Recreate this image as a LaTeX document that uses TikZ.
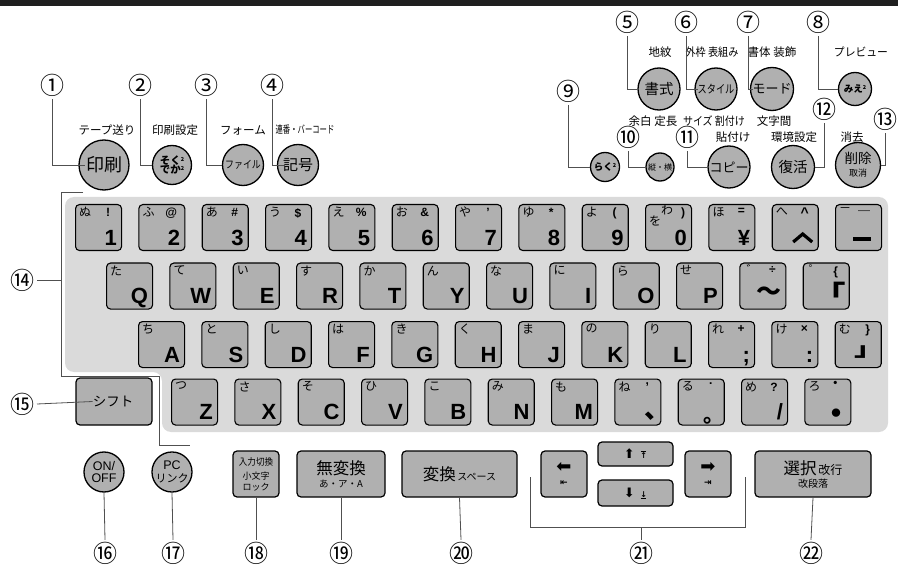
\documentclass[tikz,border=0pt]{standalone}
\usepackage{fontspec}
\usepackage{graphicx}
\setmainfont{Liberation Sans}
\newfontfamily\jp{Noto Sans CJK JP}
\newfontfamily\dvs{DejaVu Sans}
\newcommand\myfs[1]{\fontsize{#1}{#1}\selectfont}
\newcommand\sqr{\raisebox{0.55ex}{\myfs{5.5}2}}
\newcommand\uptobar{\ooalign{\hfil\rule[6.6pt]{5.5pt}{1pt}\hfil\cr↑\cr}}
\newcommand\dntobar{\ooalign{\hfil\rule[-1.2pt]{5.5pt}{1pt}\hfil\cr↓\cr}}
\definecolor{keyg}{HTML}{B0B0B0}
\definecolor{panelg}{HTML}{DADADA}
\definecolor{lin}{HTML}{505050}
\tikzset{
 kb/.style={draw=black, line width=1.1pt, fill=keyg, rounded corners=4pt, minimum width=46pt, minimum height=46pt, inner sep=0pt, anchor=north west},
 kana/.style={font=\jp\myfs{12}, inner sep=0pt, anchor=north west},
 sym/.style={font=\bfseries\myfs{12}, inner sep=0pt, anchor=north},
 big/.style={font=\bfseries\myfs{22}, inner sep=0pt, anchor=base east},
 bigj/.style={font=\jp\bfseries\myfs{21}, inner sep=0pt},
 num/.style={font=\jp\myfs{24}, inner sep=0pt, outer sep=3pt, text height=19.2pt, text depth=1.2pt},
 lab/.style={font=\jp\myfs{11.5}, inner sep=0pt},
 conn/.style={draw=lin, line width=0.8pt},
 rk/.style={circle, draw=black, line width=1.3pt, fill=keyg, inner sep=0pt, align=center},
 sk/.style={draw=black, line width=1.2pt, fill=keyg, rounded corners=4pt, inner sep=0pt, align=center},
}
\newcommand\kk[6]{%
 \node[kb] (#1) at (#2,#3) {};
 \node[kana] (#1k) at ([shift={(4,3)}]#1.north west) {#4};
 \node[sym] (#1s) at ([shift={(33,4)}]#1.north west) {#5};
 \node[big] (#1b) at ([shift={(-5,-6)}]#1.south east) {#6};
}
\begin{document}
\begin{tikzpicture}[x=1pt,y=-1pt]
\useasboundingbox (0,0) rectangle (898,567);
\fill[black!88] (0,0) rectangle (898,6);
% panel
\fill[panelg, rounded corners=9pt] (65,197) -- (888,197) -- (888,432) -- (162,432) -- (162,372) -- (65,372) -- cycle;

% ---- top-left round keys
\node[rk, minimum size=50pt] (kprint) at (104,165) {\jp\myfs{18}印刷};
\node[rk, minimum size=39pt, font=\jp\bfseries\myfs{10.5}] (ksoku) at (172,165) {そく\sqr\\[-1pt]でか\sqr};
\node[rk, minimum size=41pt] (kfile) at (243,165) {\jp\myfs{10.5}\scalebox{0.85}[1]{ファイル}};
\node[rk, minimum size=41pt] (kkigo) at (298,165) {\jp\myfs{15}記号};
\node[lab] (l1) at (107,130) {テープ送り};
\node[lab] (l2) at (175,130) {印刷設定};
\node[lab] (l3) at (243,130) {フォーム};
\node[lab] (l4) at (305,130) {\myfs{10.5}\scalebox{0.7}[1]{連番・バーコード}};
\node[num] (n1) at (52,86) {①};
\node[num] (n2) at (140,86) {②};
\node[num] (n3) at (206,86) {③};
\node[num] (n4) at (272,86) {④};
\draw[conn] (n1.south) |- ([shift={(7,0)}]kprint.west);
\draw[conn] (n2.south) |- (ksoku.west);
\draw[conn] (n3.south) |- (kfile.west);
\draw[conn] (n4.south) |- ([shift={(8,0)}]kkigo.west);

% ---- top-right round keys
\node[rk, minimum size=42pt] (kshoshiki) at (659,89) {\jp\myfs{14.5}書式};
\node[rk, minimum size=42pt] (kstyle) at (716,89) {\jp\myfs{11.5}\scalebox{0.8}[1]{スタイル}};
\node[rk, minimum size=43pt] (kmode) at (772,89) {\jp\myfs{13}モード};
\node[rk, minimum size=33pt] (kmie) at (855,89) {\jp\bfseries\myfs{9.5}みえ\sqr};
\node[lab] (l5) at (660,52) {地紋};
\node[lab] (l6) at (712,52) {\scalebox{0.88}[1]{外枠 表組み}};
\node[lab] (l7) at (772,52) {書体 装飾};
\node[lab] (l8) at (861,52) {\scalebox{0.94}[1]{プレビュー}};
\node[lab] (l9) at (653,121) {余白 定長};
\node[lab] (l10) at (714,121) {\scalebox{0.87}[1]{サイズ 割付け}};
\node[lab] (l11) at (774,121) {文字間};
\node[num] (n5) at (627,23) {⑤};
\node[num] (n6) at (686,23) {⑥};
\node[num] (n7) at (748,23) {⑦};
\node[num] (n8) at (818,23) {⑧};
\draw[conn] (n5.south) |- (kshoshiki.west);
\draw[conn] (n6.south) |- ([shift={(4,0)}]kstyle.west);
\draw[conn] (n7.south) |- ([shift={(3,0)}]kmode.west);
\draw[conn] (n8.south) |- (kmie.west);

\node[rk, minimum size=29pt] (kraku) at (605,167) {\jp\bfseries\myfs{9.5}らく\sqr};
\node[rk, minimum size=28pt] (ktate) at (660,167) {\jp\myfs{8}縦・横};
\node[rk, minimum size=42pt] (kcopy) at (729,167) {\jp\myfs{13}コピー};
\node[rk, minimum size=43pt] (kfuk) at (793,167) {\jp\myfs{14.5}復活};
\node[rk, minimum size=45pt, font=\jp] (ksaku) at (858,165) {{\myfs{13.5}削除}\\[1pt]{\myfs{9}取消}};
\node[lab] (l12) at (733,137) {貼付け};
\node[lab] (l13) at (794,137) {環境設定};
\node[lab] (l14) at (852,137) {消去};
\node[num] (n9) at (568,92) {⑨};
\node[num] (n10) at (628,138) {⑩};
\node[num] (n11) at (687,138) {⑪};
\node[num] (n12) at (824,110) {⑫};
\node[num] (n13) at (885.5,120) {⑬};
\draw[conn] (n9.south) |- (kraku.west);
\draw[conn] (n10.south) |- (ktate.west);
\draw[conn] (n11.south) |- (kcopy.west);
\draw[conn] (n12.south) |- (kfuk.east);
\draw[conn] (n13.south) |- (ksaku.east);

% ---- keyboard row 1
\kk{k1}{75}{204}{ぬ}{!}{1}
\kk{k2}{138.3}{204}{ふ}{@}{2}
\kk{k3}{201.7}{204}{あ}{\#}{3}
\kk{k4}{265}{204}{う}{\$}{4}
\kk{k5}{328.3}{204}{え}{\%}{5}
\kk{k6}{391.7}{204}{お}{\&}{6}
\kk{k7}{455}{204}{や}{'}{7}
\kk{k8}{518.3}{204}{ゆ}{*}{8}
\kk{k9}{581.7}{204}{よ}{(}{9}
\kk{k0}{645}{204}{}{}{0}
\node[kana] (k0w) at ([shift={(16,1)}]k0.north west) {わ};
\node[kana] (k0o) at ([shift={(4,12)}]k0.north west) {を};
\node[sym] (k0p) at ([shift={(38,4)}]k0.north west) {)};
\kk{kyen}{708.3}{204}{ほ}{=}{¥}
\kk{kcar}{771.7}{204}{へ}{\myfs{14}\textasciicircum}{}
\draw[line width=3.2pt, miter limit=10] ([shift={(21.5,38)}]kcar.north west) -- ([shift={(31,30)}]kcar.north west) -- ([shift={(40.5,38)}]kcar.north west);
\kk{kmin}{835}{204}{}{}{}
\node[kana] (kmink) at ([shift={(4,3)}]kmin.north west) {－};
\node[sym, font=\jp\bfseries\myfs{12}] (kmins) at ([shift={(29,7)}]kmin.north west) {￣};
\fill ([shift={(18,33)}]kmin.north west) rectangle ([shift={(36,37.5)}]kmin.north west);

% ---- row 2
\kk{kq}{106}{262.5}{た}{}{Q}
\kk{kw}{169.3}{262.5}{て}{}{W}
\kk{ke}{232.7}{262.5}{い}{}{E}
\kk{kr}{296}{262.5}{す}{}{R}
\kk{kt}{359.3}{262.5}{か}{}{T}
\kk{ky}{422.7}{262.5}{ん}{}{Y}
\kk{ku}{486}{262.5}{な}{}{U}
\kk{ki}{549.3}{262.5}{に}{}{I}
\kk{ko}{612.7}{262.5}{ら}{}{O}
\kk{kp}{676}{262.5}{せ}{}{P}
\kk{kti}{739.3}{262.5}{}{÷}{}
\node[kana] (ktid) at ([shift={(7,2)}]kti.north west) {゛};
\node[bigj, font=\jp\bfseries\myfs{25}] (ktib) at ([shift={(30,31)}]kti.north west) {〜};
\kk{kbr}{802.7}{262.5}{}{\{}{}
\node[kana] (kbrd) at ([shift={(6,2)}]kbr.north west) {゜};
\node[bigj, font=\jp\bfseries\myfs{25}] (kbrb) at ([shift={(27,30)}]kbr.north west) {\scalebox{1.3}[1]{「}};

% ---- row 3
\kk{ka}{138}{321}{ち}{}{A}
\kk{ks}{201.3}{321}{と}{}{S}
\kk{kd}{264.7}{321}{し}{}{D}
\kk{kf}{328}{321}{は}{}{F}
\kk{kg}{391.3}{321}{き}{}{G}
\kk{kh}{454.7}{321}{く}{}{H}
\kk{kj}{518}{321}{ま}{}{J}
\kk{kk}{581.3}{321}{の}{}{K}
\kk{kl}{644.7}{321}{り}{}{L}
\kk{ksc}{708}{321}{れ}{+}{;}
\kk{kco}{771.3}{321}{け}{×}{:}
\kk{kbc}{834.7}{321}{む}{\}}{}
\node[bigj, font=\jp\bfseries\myfs{20}] (kbcb) at ([shift={(35,31)}]kbc.north west) {\scalebox{1.5}[1]{」}};

% ---- row 4
\kk{kz}{171}{378.5}{つ}{}{Z}
\kk{kx}{234.3}{378.5}{さ}{}{X}
\kk{kc}{297.7}{378.5}{そ}{}{C}
\kk{kv}{361}{378.5}{ひ}{}{V}
\kk{kbb}{424.3}{378.5}{こ}{}{B}
\kk{kn}{487.7}{378.5}{み}{}{N}
\kk{km}{551}{378.5}{も}{}{M}
\kk{kcm}{614.3}{378.5}{ね}{,}{}
\node[bigj, font=\jp\bfseries\myfs{26}, anchor=south west] (kcmb) at ([shift={(30,-5)}]kcm.south west) {、};
\kk{kpd}{677.7}{378.5}{る}{.}{}
\node[bigj, anchor=south west] (kpdb) at ([shift={(26,-1.5)}]kpd.south west) {。};
\kk{ksl}{741}{378.5}{め}{?}{/}
\kk{kdt}{804.3}{378.5}{ろ}{}{}
\node[sym, font=\jp\bfseries\myfs{12}] (kdts) at ([shift={(31,3)}]kdt.north west) {・};
\node[bigj, font=\jp\bfseries\myfs{30}] (kdtb) at ([shift={(32.5,38)}]kdt.north west) {・};

% ---- shift key and bracket 14
\node[sk, minimum width=76pt, minimum height=47pt] (kshift) at (114,401.5) {};
\node[font=\jp\myfs{13.5}, inner sep=0pt] (kshiftt) at (113,401.5) {シフト};
\coordinate (b14a) at (83,192);
\coordinate (b14b) at (61,192);
\coordinate (b14c) at (61,376.5);
\coordinate (b14d) at (159.5,376.5);
\coordinate (b14e) at (159.5,445);
\coordinate (b14f) at (190,445);
\coordinate (b14m) at (61,280);
\draw[conn] (b14a) -- (b14b) -- (b14c) -- (b14d) -- (b14e) -- (b14f);
\node[num] (n14) at (22,280) {⑭};
\node[num] (n15) at (22,404) {⑮};
\draw[conn] (n14.east) -- (b14m);
\draw[conn] (n15.east) -- (kshiftt.west);

% ---- bottom row
\node[rk, minimum size=40pt, font=\myfs{12.5}] (kon) at (104,472) {ON/\\[-1pt]OFF};
\node[rk, minimum size=40pt, font=\myfs{12.5}] (kpc) at (172,472) {PC\\[1pt]{\jp\myfs{11}リンク}};
\node[sk, minimum width=46pt, minimum height=46pt, font=\jp] (kinput) at (256,474) {{\myfs{9.5}\scalebox{0.9}[1]{入力切換}}\\[2pt]{\myfs{9}小文字}\\[-1pt]{\myfs{9}ロック}};
\node[sk, minimum width=88pt, minimum height=46pt, font=\jp] (kmuhen) at (341,474) {{\myfs{16.5}無変換}\\[1pt]{\myfs{9.5}あ・ア・A}};
\node[sk, minimum width=115pt, minimum height=46pt, font=\jp] (khen) at (459.5,474) {{\myfs{16.5}変換}\,{\myfs{10}スペース}};
\node[sk, minimum width=46pt, minimum height=46pt, font=\dvs] (kleft) at (564,474) {{\myfs{18}⬅}\\[1pt]{\bfseries\myfs{9}⇤}};
\node[sk, minimum width=75pt, minimum height=24pt, font=\dvs] (kup) at (635.5,454) {{\myfs{13}⬆}\;\;{\bfseries\myfs{8}\uptobar}};
\node[sk, minimum width=75pt, minimum height=26pt, font=\dvs] (kdown) at (635.5,493) {{\myfs{13}⬇}\;\;{\bfseries\myfs{8}\dntobar}};
\node[sk, minimum width=46pt, minimum height=46pt, font=\dvs] (kright) at (708,474) {{\myfs{18}➡}\\[1pt]{\bfseries\myfs{9}⇥}};
\node[sk, minimum width=116pt, minimum height=46pt, font=\jp] (ksel) at (813,474) {{\myfs{16.5}選択}\,{\myfs{12}改行}\\[1pt]{\myfs{10}改段落}};

\node[num] (n16) at (105,553) {⑯};
\node[num] (n17) at (173,553) {⑰};
\node[num] (n18) at (256,553) {⑱};
\node[num] (n19) at (341,553) {⑲};
\node[num] (n20) at (461,553) {⑳};
\node[num] (n21) at (641,553) {㉑};
\node[num] (n22) at (811,553) {㉒};
\draw[conn] (kon.south) -- (n16.north);
\draw[conn] (kpc.south) -- (n17.north);
\draw[conn] (kinput.south) -- (n18.north);
\draw[conn] (kmuhen.south) -- (n19.north);
\draw[conn] (khen.south) -- (n20.north);
\draw[conn] (ksel.south) -- (n22.north);
\coordinate (b21a) at (530,477);
\coordinate (b21b) at (530,527);
\coordinate (b21c) at (745,527);
\coordinate (b21d) at (745,477);
\coordinate (b21m) at (641,527);
\draw[conn] (b21a) -- (b21b) -- (b21c) -- (b21d);
\draw[conn] (b21m) -- (n21.north);
\end{tikzpicture}
\end{document}
